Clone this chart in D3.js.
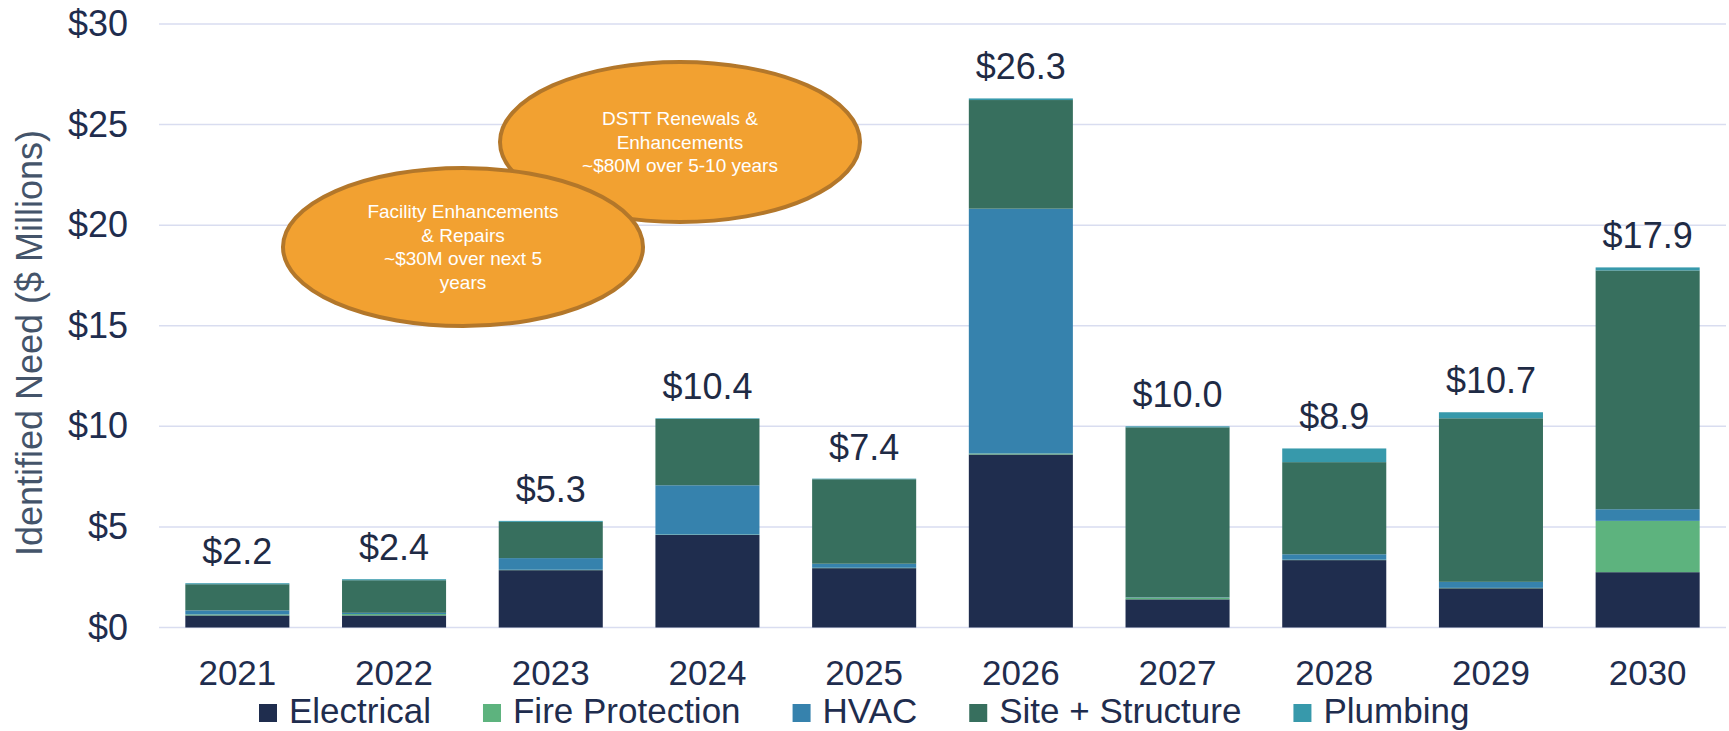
<!DOCTYPE html>
<html>
<head>
<meta charset="utf-8">
<script src="https://cdn.jsdelivr.net/npm/d3@7"></script>
<style>
  body { margin: 0; background: #fff; }
  text { font-family: "Liberation Sans", Arial, sans-serif; }
</style>
</head>
<body>
<div id="chart"></div>
<script>
const years = ["2021", "2022", "2023", "2024", "2025", "2026", "2027", "2028", "2029", "2030"];
const categories = ["Electrical", "Fire Protection", "HVAC", "Site + Structure", "Plumbing"];
const electrical     = [0.6, 0.6, 2.85, 4.6, 2.95, 8.6, 1.4, 3.35, 1.95, 2.75];
const fireProtection = [0.05, 0.07, 0.02, 0.02, 0.02, 0.05, 0.08, 0.02, 0.02, 2.55];
const hvac           = [0.2, 0.06, 0.58, 2.45, 0.2, 12.17, 0.02, 0.27, 0.3, 0.58];
const siteStructure  = [1.3, 1.62, 1.8, 3.3, 4.2, 5.4, 8.45, 4.58, 8.13, 11.87];
const plumbing       = [0.05, 0.05, 0.05, 0.03, 0.03, 0.08, 0.05, 0.68, 0.3, 0.15];
const yTicks = [0, 5, 10, 15, 20, 25, 30];
const notes = [
    ["DSTT Renewals &", "Enhancements", "~$80M over 5-10 years"],
    ["Facility Enhancements", "& Repairs", "~$30M over next 5", "years"]
];

const width = 1729, height = 731;
const plot = {left: 159, right: 1726, top: 24, bottom: 627.5};

const svg = d3.select("#chart")
    .append("svg")
    .attr("width", width)
    .attr("height", height)
    .style("display", "block");

const series = [electrical, fireProtection, hvac, siteStructure, plumbing];
const data = years.map((yr, i) => {
    const row = {year: yr};
    categories.forEach((c, k) => row[c] = series[k][i]);
    return row;
});

const x = d3.scaleBand().domain(years).range([plot.left, plot.right])
    .paddingInner(0.336).paddingOuter(0.168);
const y = d3.scaleLinear().domain([0, 30]).range([plot.bottom, plot.top]);

const color = d3.scaleOrdinal()
    .domain(categories)
    .range(["#1f2d4e", "#5db37e", "#3682ad", "#376f5e", "#3799ab"]);

// gridlines
svg.append("g")
    .selectAll("line")
    .data(yTicks)
    .join("line")
    .attr("x1", plot.left)
    .attr("x2", plot.right)
    .attr("y1", d => y(d))
    .attr("y2", d => y(d))
    .attr("stroke", "#d9ddf0")
    .attr("stroke-width", 1.5);

// y axis labels
const yAxis = svg.append("g")
    .attr("transform", `translate(${plot.left - 31},0)`)
    .call(d3.axisLeft(y).tickValues(yTicks).tickSize(0).tickPadding(0).tickFormat(d => "$" + d));
yAxis.select(".domain").remove();
yAxis.selectAll("text")
    .attr("fill", "#1f2d4e")
    .style("font-size", "36px")
    .style("font-family", "Liberation Sans, Arial, sans-serif");

// x axis labels
const xAxis = svg.append("g")
    .attr("transform", `translate(0,${plot.bottom})`)
    .call(d3.axisBottom(x).tickSize(0).tickPadding(0));
xAxis.select(".domain").remove();
xAxis.selectAll("text")
    .attr("dy", null)
    .attr("y", 57)
    .attr("fill", "#1f2d4e")
    .style("font-size", "35px")
    .style("font-family", "Liberation Sans, Arial, sans-serif");

// y-axis title
svg.append("text")
    .attr("transform", "translate(42,343) rotate(-90)")
    .attr("text-anchor", "middle")
    .attr("fill", "#44546a")
    .style("font-size", "36px")
    .text("Identified Need ($ Millions)");

// stacked bars
const stacked = d3.stack().keys(categories)(data);
svg.append("g")
    .selectAll("g")
    .data(stacked)
    .join("g")
    .attr("fill", d => color(d.key))
    .selectAll("rect")
    .data(d => d)
    .join("rect")
    .attr("x", d => x(d.data.year))
    .attr("width", x.bandwidth())
    .attr("y", d => y(d[1]))
    .attr("height", d => y(d[0]) - y(d[1]));

// totals
svg.append("g")
    .selectAll("text")
    .data(data)
    .join("text")
    .attr("x", d => x(d.year) + x.bandwidth() / 2)
    .attr("y", d => y(d3.sum(categories, c => d[c])) - 19)
    .attr("text-anchor", "middle")
    .attr("fill", "#1f2b45")
    .style("font-size", "36px")
    .text(d => "$" + d3.sum(categories, c => d[c]).toFixed(1));

// callout ellipses
const callouts = [
    {cx: 680, cy: 142, rx: 180, ry: 80, lines: notes[0]},
    {cx: 463, cy: 247, rx: 180, ry: 79, lines: notes[1]}
];
callouts.forEach(c => {
    svg.append("ellipse")
        .attr("cx", c.cx).attr("cy", c.cy)
        .attr("rx", c.rx).attr("ry", c.ry)
        .attr("fill", "#f2a131")
        .attr("stroke", "#b3772a")
        .attr("stroke-width", 4);
    const lh = 23.5;
    const t = svg.append("text")
        .attr("text-anchor", "middle")
        .attr("fill", "#fff")
        .style("font-size", "19px");
    c.lines.forEach((ln, i) => {
        t.append("tspan")
            .attr("x", c.cx)
            .attr("y", c.cy + 6.5 + (i - (c.lines.length - 1) / 2) * lh)
            .text(ln);
    });
});

// legend
const legend = svg.append("g");
let lx = 259;
categories.forEach(c => {
    legend.append("rect")
        .attr("x", lx).attr("y", 704)
        .attr("width", 18).attr("height", 18)
        .attr("fill", color(c));
    const t = legend.append("text")
        .attr("x", lx + 30)
        .attr("y", 722.5)
        .attr("fill", "#1f2d4e")
        .style("font-size", "35px")
        .text(c);
    lx += 30 + t.node().getComputedTextLength() + 52;
});
</script>
</body>
</html>
